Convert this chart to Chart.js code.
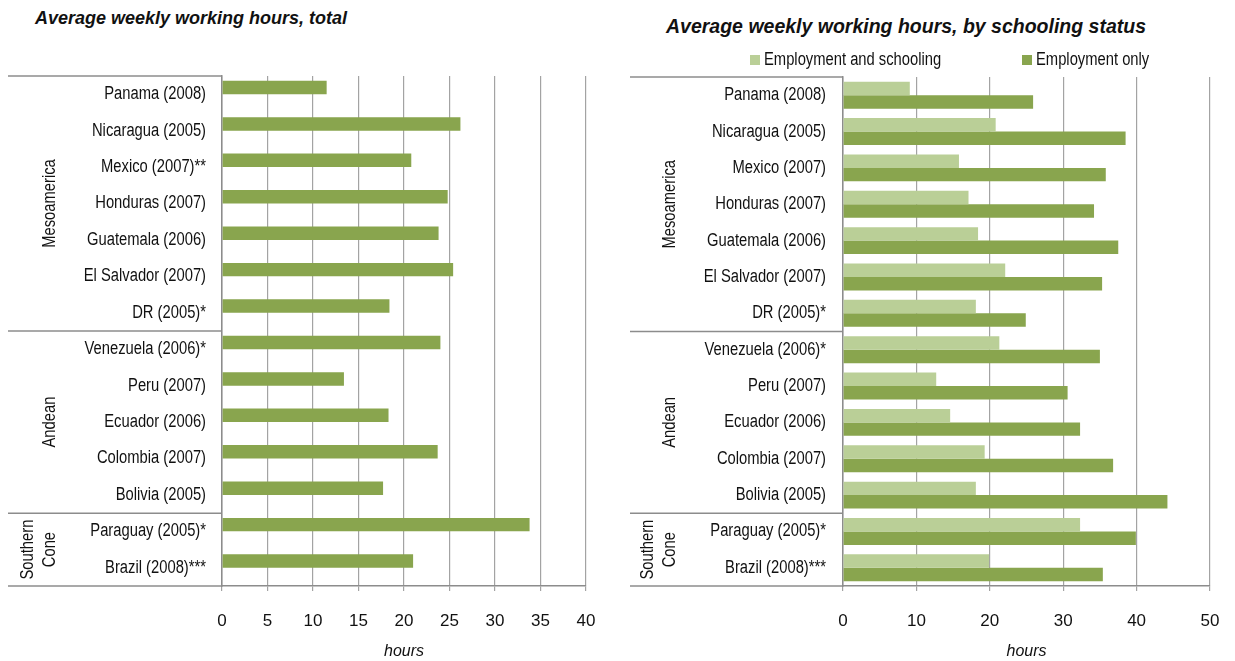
<!DOCTYPE html>
<html>
<head>
<meta charset="utf-8">
<script src="https://cdn.jsdelivr.net/npm/chart.js@4"></script>
<style>
  body { margin: 0; background: #fff; width: 1235px; height: 661px; position: relative; overflow: hidden; }
  .title { position: absolute; font-family: "Liberation Sans", Arial, sans-serif; font-style: italic; font-weight: bold; color: #111; white-space: nowrap; }
  canvas { position: absolute; top: 0; }
</style>
</head>
<body>
<div class="title" style="left:35px; top:8px; font-size:18px;">Average weekly working hours, total</div>
<div class="title" style="left:666px; top:15px; font-size:19.5px;">Average weekly working hours, by schooling status</div>
<canvas id="left" width="610" height="661" style="left:0"></canvas>
<canvas id="right" width="615" height="661" style="left:620px"></canvas>
<script>
// categories (top to bottom)
const countriesTotal = ['Panama (2008)', 'Nicaragua (2005)', 'Mexico (2007)**', 'Honduras (2007)',
  'Guatemala (2006)', 'El Salvador (2007)', 'DR (2005)*', 'Venezuela (2006)*', 'Peru (2007)',
  'Ecuador (2006)', 'Colombia (2007)', 'Bolivia (2005)', 'Paraguay (2005)*', 'Brazil (2008)***'];
const countriesSchooling = ['Panama (2008)', 'Nicaragua (2005)', 'Mexico (2007)', 'Honduras (2007)',
  'Guatemala (2006)', 'El Salvador (2007)', 'DR (2005)*', 'Venezuela (2006)*', 'Peru (2007)',
  'Ecuador (2006)', 'Colombia (2007)', 'Bolivia (2005)', 'Paraguay (2005)*', 'Brazil (2008)***'];

// region groups, in the same order
const groupNames = [['Mesoamerica'], ['Andean'], ['Southern', 'Cone']];
const groupSizes = [7, 5, 2];

// hours per week
const totalHours = [11.5, 26.2, 20.8, 24.8, 23.8, 25.4, 18.4, 24.0, 13.4, 18.3, 23.7, 17.7, 33.8, 21.0];
const schoolingHours = [9.1, 20.8, 15.8, 17.1, 18.4, 22.1, 18.1, 21.3, 12.7, 14.6, 19.3, 18.1, 32.3, 19.9];
const employmentOnlyHours = [25.9, 38.5, 35.8, 34.2, 37.5, 35.3, 24.9, 35.0, 30.6, 32.3, 36.8, 44.2, 39.9, 35.4];

const seriesNames = ['Employment and schooling', 'Employment only'];

const fontFam = '"Liberation Sans", Arial, sans-serif';
const squeeze = 0.82; // no narrow face installed, so squash the regular one
const darkGreen = '#89a54e';
const lightGreen = '#bacf97';
const lineGray = '#8c8c8c';
const textColor = '#111';

function narrowText(ctx, txt, x, y, align, rot) {
  ctx.save();
  ctx.translate(x, y);
  if (rot) ctx.rotate(rot);
  ctx.scale(squeeze, 1);
  ctx.textAlign = align;
  ctx.textBaseline = 'middle';
  ctx.fillText(txt, 0, 0);
  ctx.restore();
}

// category labels, region column with its lines, and the legend
const tablePlugin = {
  id: 'table',
  afterDraw(chart, args, opts) {
    const { ctx, chartArea: ca, scales: { y } } = chart;
    const half = (y.getPixelForValue(1) - y.getPixelForValue(0)) / 2;
    ctx.save();
    ctx.fillStyle = textColor;
    ctx.font = '18px ' + fontFam;

    chart.data.labels.forEach((lab, i) => {
      narrowText(ctx, lab, ca.left - opts.tickPad, y.getPixelForValue(i), 'right');
    });

    ctx.strokeStyle = lineGray;
    ctx.lineWidth = 1.5;
    let edges = [y.getPixelForValue(0) - half];
    let idx = 0;
    groupSizes.forEach(n => { idx += n; edges.push(y.getPixelForValue(idx - 1) + half); });
    edges.forEach(py => {
      ctx.beginPath();
      ctx.moveTo(opts.left, py);
      ctx.lineTo(ca.left, py);
      ctx.stroke();
    });

    groupNames.forEach((lines, g) => {
      const cy = (edges[g] + edges[g + 1]) / 2;
      lines.forEach((txt, i) => {
        const cx = opts.labelX - (lines.length - 1 - i) * 22;
        narrowText(ctx, txt, cx, cy, 'center', -Math.PI / 2);
      });
    });

    if (opts.legend) {
      chart.data.datasets.forEach((ds, i) => {
        const lx = opts.legend[i];
        ctx.fillStyle = ds.backgroundColor;
        ctx.fillRect(lx, 55, 10, 10);
        ctx.fillStyle = textColor;
        narrowText(ctx, ds.label, lx + 14, 60, 'left');
      });
    }
    ctx.restore();
  }
};

function makeOptions(max, step, yWidth, pad, plugOpts) {
  return {
    indexAxis: 'y',
    responsive: false,
    animation: false,
    devicePixelRatio: 1,
    layout: { padding: pad },
    datasets: { bar: { categoryPercentage: 0.74, barPercentage: 1 } },
    plugins: { legend: { display: false }, tooltip: { enabled: false }, table: plugOpts },
    scales: {
      x: {
        min: 0, max: max,
        ticks: { stepSize: step, color: textColor, font: { family: fontFam, size: 17 }, padding: 20 },
        grid: { color: '#a3a3a3', lineWidth: 1.2, tickLength: 5 },
        border: { display: true, color: lineGray, width: 1.5 },
        title: { display: true, text: 'hours', color: textColor,
          font: { family: fontFam, size: 16, style: 'italic' }, padding: { top: 0, bottom: 0 } },
        afterFit(s) {
          s.height = 75;
          // the side padding already leaves room for the end labels
          s.paddingLeft = 0;
          s.paddingRight = 0;
        }
      },
      y: {
        ticks: { display: false },
        grid: { display: false },
        border: { display: true, color: lineGray, width: 1.5 },
        afterFit(s) { s.width = yWidth; }
      }
    }
  };
}

new Chart(document.getElementById('left'), {
  type: 'bar',
  data: {
    labels: countriesTotal,
    datasets: [
      { label: 'Total', data: totalHours, backgroundColor: darkGreen },
      { label: '', data: [], backgroundColor: darkGreen }
    ]
  },
  options: makeOptions(40, 5, 222, { left: 0, right: 24, top: 76, bottom: 0 },
    { left: 8, labelX: 50, tickPad: 16 }),
  plugins: [tablePlugin]
});

new Chart(document.getElementById('right'), {
  type: 'bar',
  data: {
    labels: countriesSchooling,
    datasets: [
      { label: seriesNames[0], data: schoolingHours, backgroundColor: lightGreen },
      { label: seriesNames[1], data: employmentOnlyHours, backgroundColor: darkGreen }
    ]
  },
  options: makeOptions(50, 10, 223, { left: 0, right: 25, top: 77, bottom: 0 },
    { left: 10, labelX: 50, tickPad: 17, legend: [130, 402] }),
  plugins: [tablePlugin]
});
</script>
</body>
</html>
